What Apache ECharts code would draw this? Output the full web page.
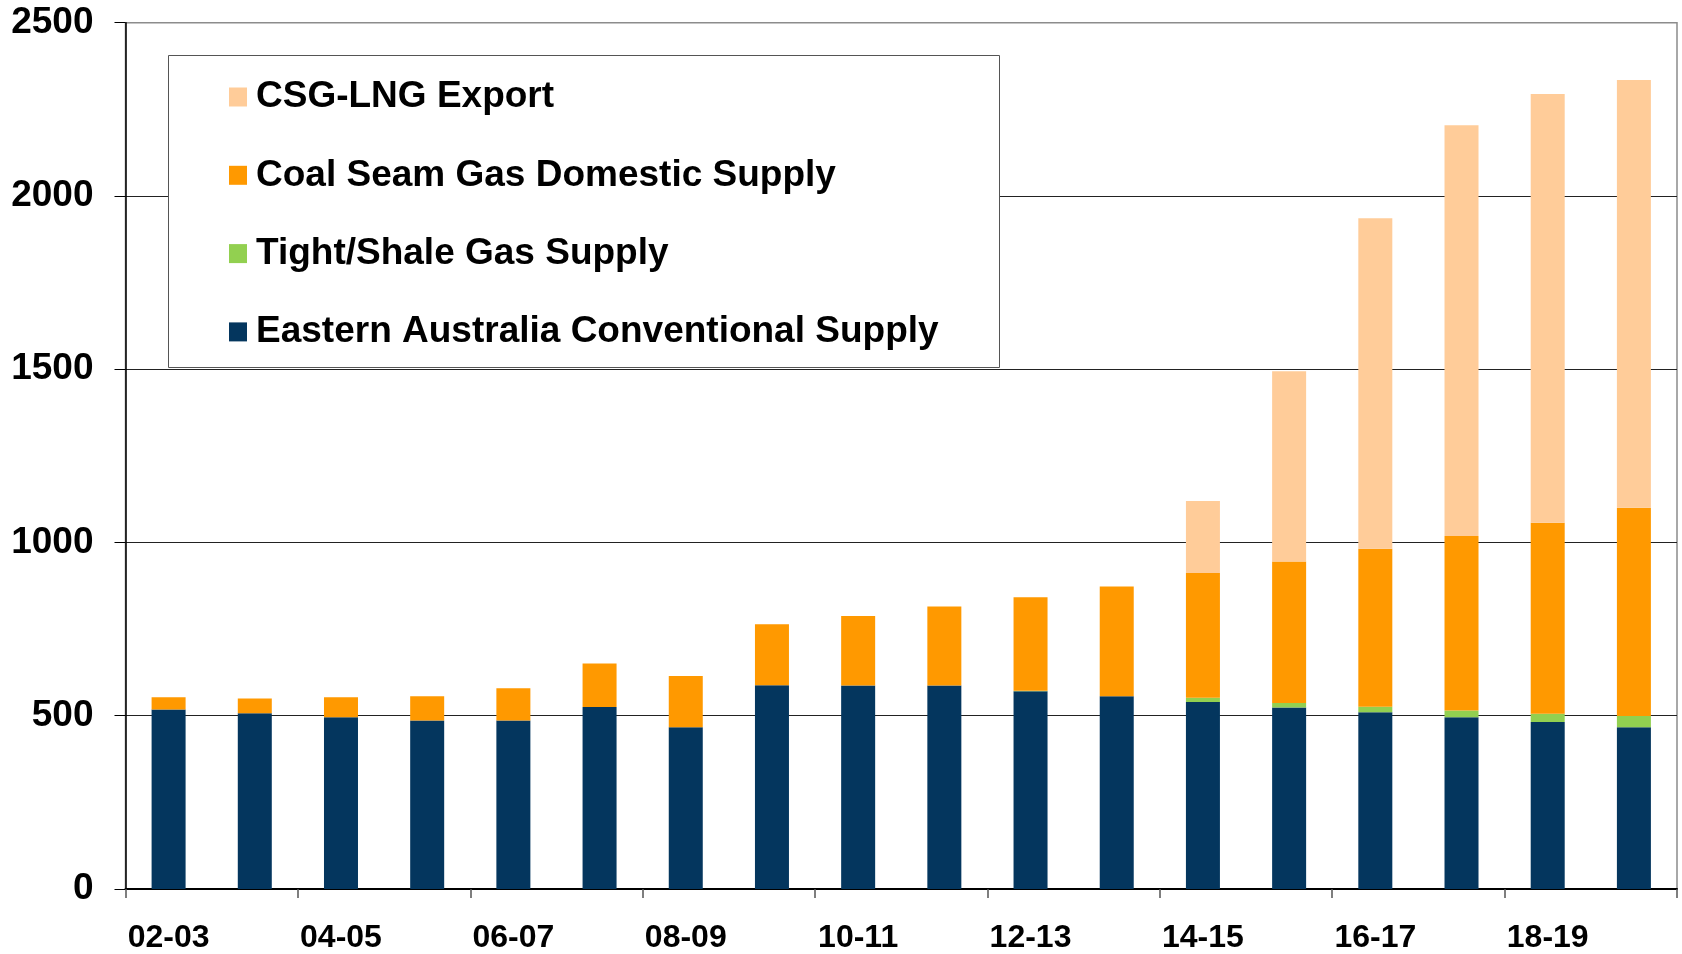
<!DOCTYPE html>
<html>
<head>
<meta charset="utf-8">
<script src="https://cdn.jsdelivr.net/npm/echarts@6/dist/echarts.min.js"></script>
<style>
  html, body { margin: 0; padding: 0; background: #fff; }
  #chart { width: 1682px; height: 954px; }
</style>
</head>
<body>
<div id="chart"></div>
<script>
// financial years
const years = ["02-03", "03-04", "04-05", "05-06", "06-07", "07-08", "08-09", "09-10", "10-11",
  "11-12", "12-13", "13-14", "14-15", "15-16", "16-17", "17-18", "18-19", "19-20"];

// stacked supply (PJ), bottom to top
const conventional = [518, 507, 496, 486, 486, 525, 467, 588, 587, 587, 571, 556, 540, 524, 510, 496, 482, 467];
const tightShale = [0, 0, 0, 0, 0, 0, 0, 0, 0, 0, 1, 0, 12, 13, 16, 19, 24, 32];
const csgDomestic = [35, 43, 57, 70, 93, 126, 148, 176, 201, 228, 270, 317, 360, 408, 456, 504, 551, 601];
const csgLngExport = [0, 0, 0, 0, 0, 0, 0, 0, 0, 0, 0, 0, 208, 549, 954, 1185, 1237, 1235];

const yTicks = [0, 500, 1000, 1500, 2000, 2500];

const font = "'Liberation Sans', Arial, sans-serif";

const chart = echarts.init(document.getElementById("chart"), null, { renderer: "canvas" });

function bar(name, data, color) {
  return {
    name: name,
    type: "bar",
    stack: "supply",
    data: data,
    barWidth: 34,
    itemStyle: { color: color },
    animation: false
  };
}

chart.setOption({
  animation: false,
  grid: {
    left: 125.5,
    right: 5,
    top: 22.7,
    bottom: 63,
    show: true,
    borderColor: "#8c8c8c",
    borderWidth: 1.5
  },
  graphic: [{
    type: "rect",
    z: 3,
    shape: { x: 168.5, y: 55.5, width: 831, height: 312 },
    style: { fill: "#fff", stroke: "#555", lineWidth: 1 }
  }],
  legend: {
    orient: "vertical",
    left: 229,
    top: 77,
    padding: 0,
    z: 5,
    itemWidth: 18,
    itemHeight: 19,
    itemGap: 38.3,
    icon: "rect",
    data: ["CSG-LNG Export", "Coal Seam Gas Domestic Supply", "Tight/Shale Gas Supply", "Eastern Australia Conventional Supply"],
    textStyle: {
      fontFamily: font,
      fontWeight: "bold",
      fontSize: 37,
      lineHeight: 40,
      color: "#000",
      padding: [0, 0, 0, 4]
    },
    selectedMode: false
  },
  xAxis: {
    type: "category",
    data: years,
    boundaryGap: true,
    axisLine: { lineStyle: { color: "#000", width: 2 } },
    axisTick: { show: true, length: 9, lineStyle: { color: "#555", width: 1.5 } },
    axisLabel: {
      interval: 1,
      margin: 33,
      fontFamily: font,
      fontWeight: "bold",
      fontSize: 32,
      color: "#000"
    }
  },
  yAxis: {
    type: "value",
    min: yTicks[0],
    max: yTicks[yTicks.length - 1],
    interval: 500,
    axisLine: { show: true, lineStyle: { color: "#000", width: 1.5 } },
    axisTick: { show: true, length: 11, lineStyle: { color: "#000" } },
    axisLabel: {
      margin: 32,
      fontFamily: font,
      fontWeight: "bold",
      fontSize: 37,
      color: "#000",
      formatter: function (v) { return String(v); }
    },
    splitLine: {
      show: true,
      lineStyle: { color: ["#222", "#222", "#222", "#222", "#222", "#8c8c8c"], width: 1.2 }
    }
  },
  series: [
    bar("Eastern Australia Conventional Supply", conventional, "#04365e"),
    bar("Tight/Shale Gas Supply", tightShale, "#92d050"),
    bar("Coal Seam Gas Domestic Supply", csgDomestic, "#ff9900"),
    bar("CSG-LNG Export", csgLngExport, "#ffcc99")
  ]
});
</script>
</body>
</html>
